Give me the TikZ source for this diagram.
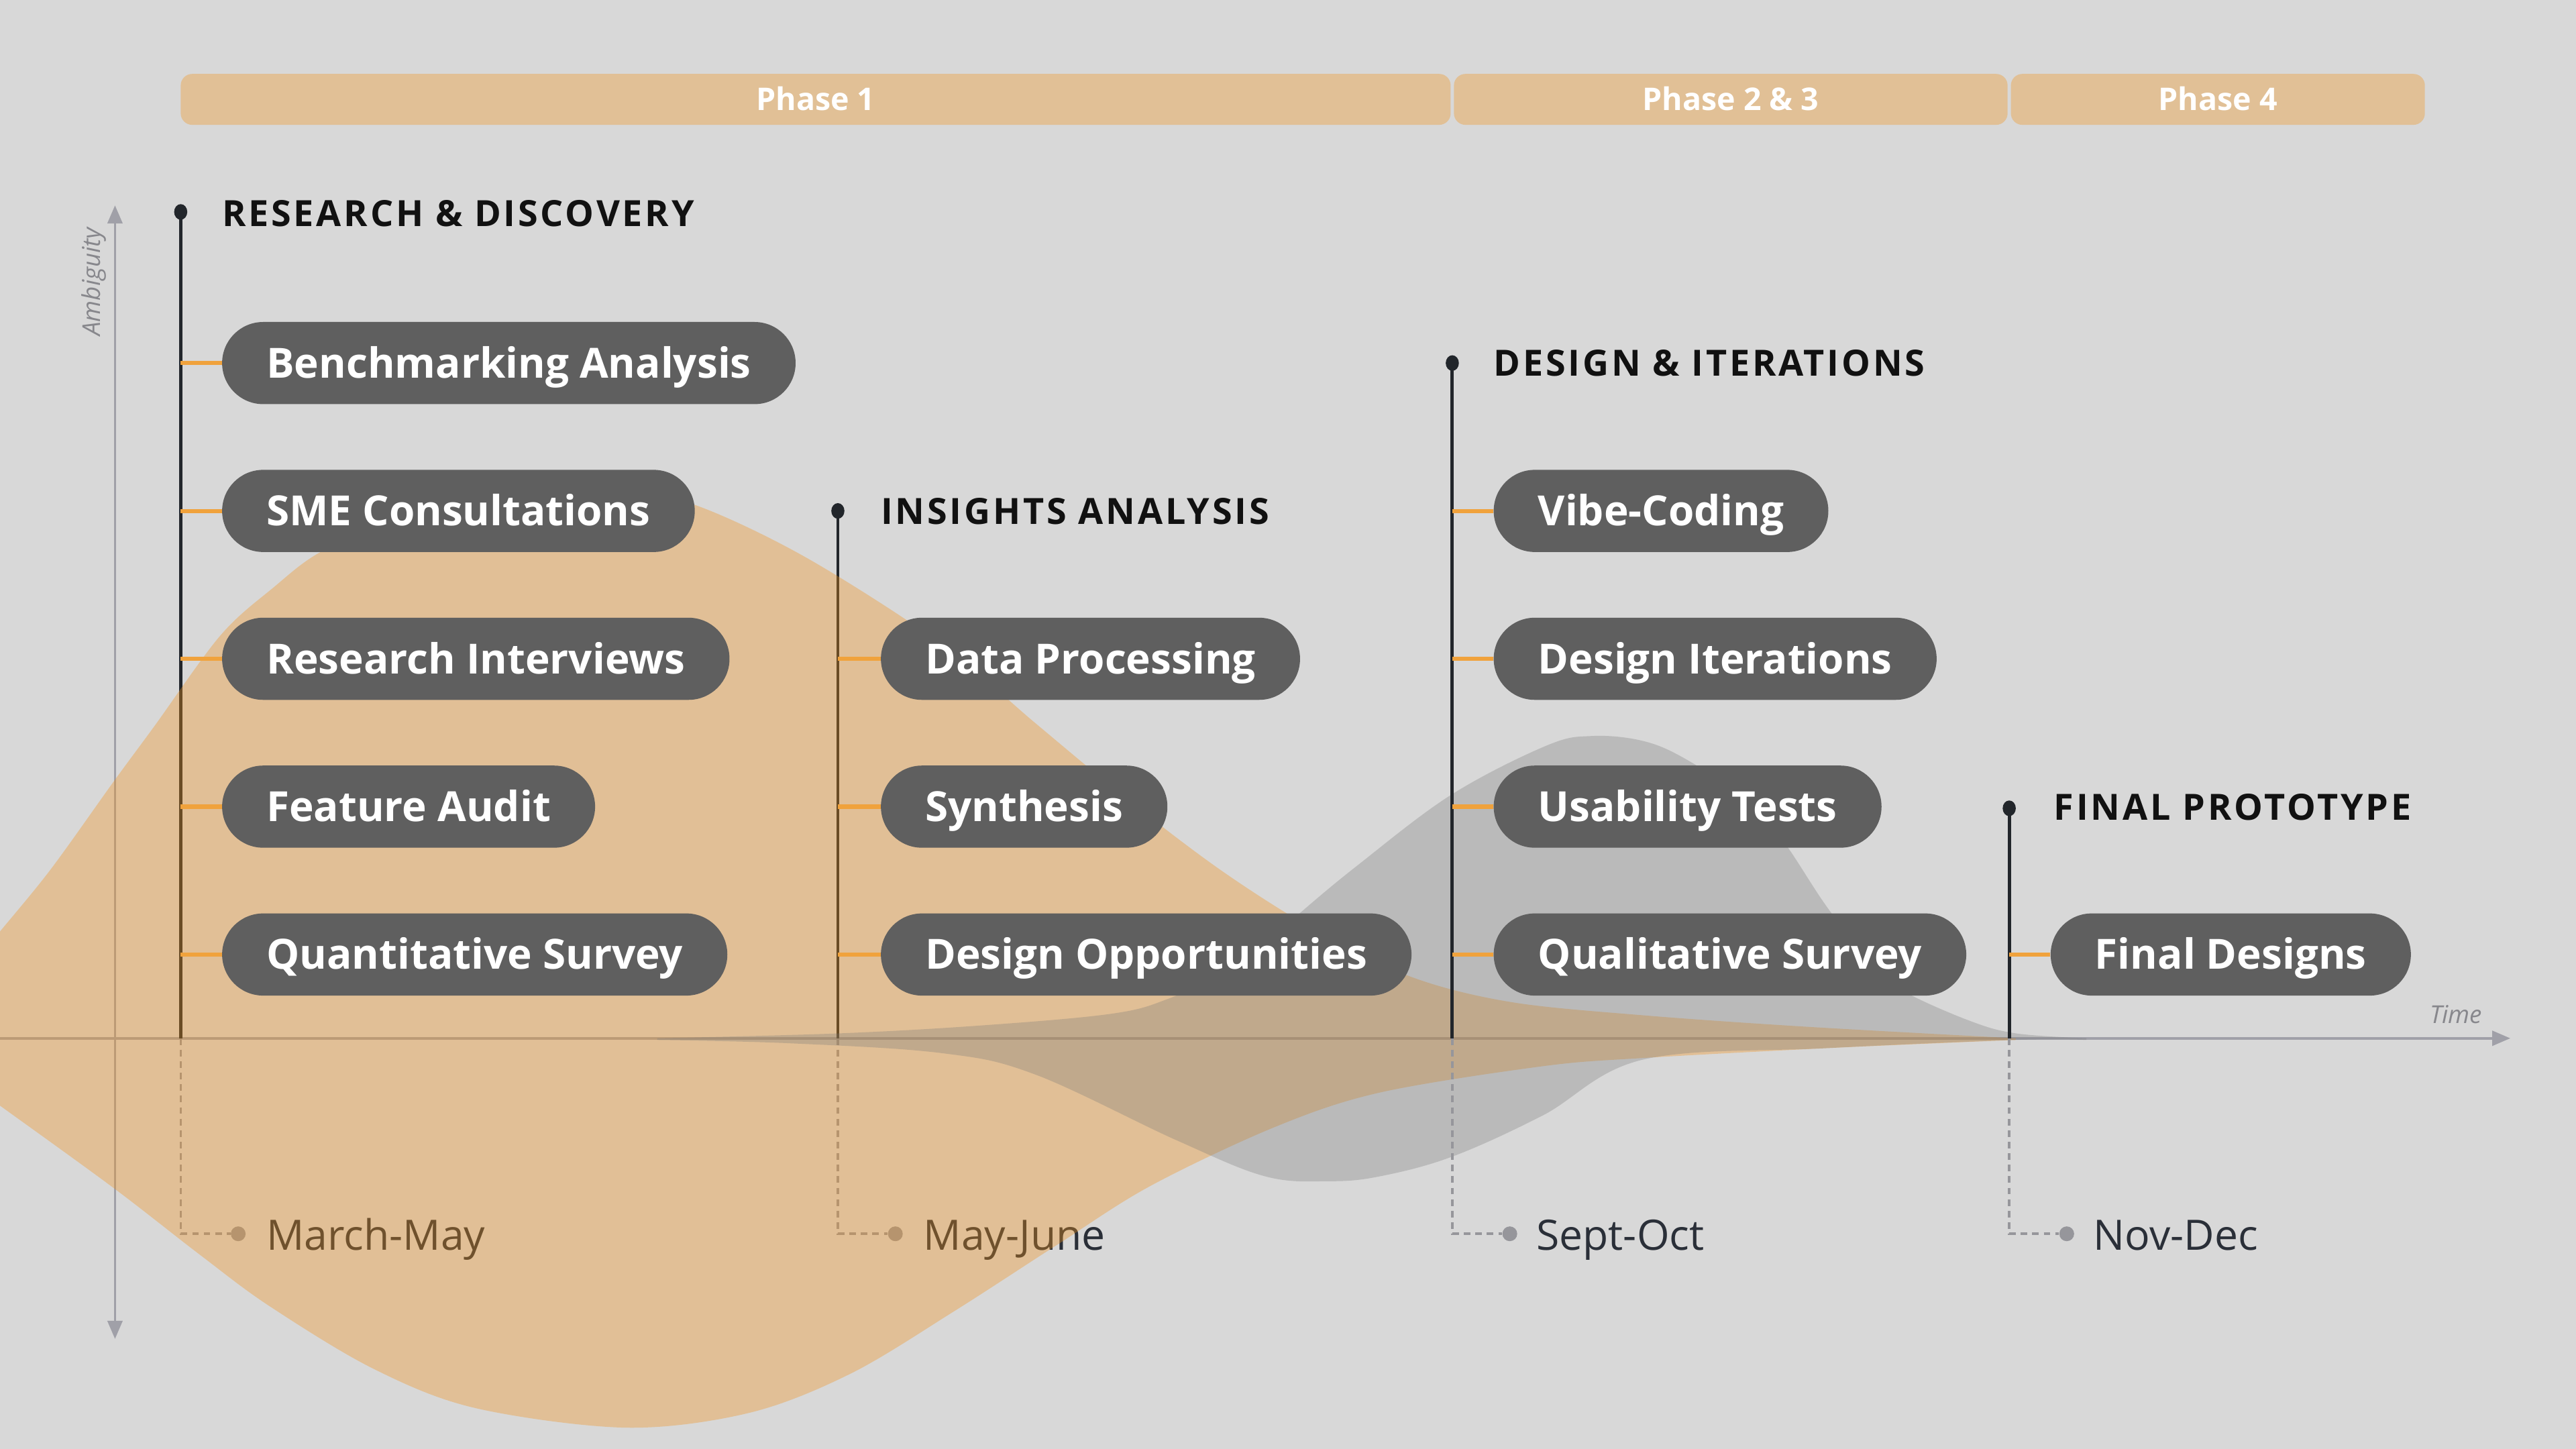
\documentclass[tikz,border=0pt]{standalone}
\usepackage{fontspec}
\setmainfont{Open Sans}
\newfontfamily\titlefont{Open Sans}[LetterSpace=7]
\usetikzlibrary{arrows.meta,shapes.geometric}
\definecolor{bgc}{RGB}{216,216,216}
\definecolor{barfill}{RGB}{225,192,150}
\definecolor{tanfill}{RGB}{242,147,27}
\definecolor{grayfill}{RGB}{119,119,119}
\definecolor{boxgray}{RGB}{95,95,95}
\definecolor{connorange}{RGB}{240,162,60}
\definecolor{linedark}{RGB}{34,38,43}
\definecolor{titleblack}{RGB}{17,17,17}
\definecolor{datetext}{RGB}{42,47,56}
\definecolor{axisgray}{RGB}{160,160,168}
\definecolor{dashgray}{RGB}{150,150,155}
\definecolor{labelgray}{RGB}{135,135,140}
\begin{document}
\begin{tikzpicture}[x=1pt,y=-1pt,
  pill/.style={fill=boxgray, text=white, rounded corners=25pt, minimum height=50pt, inner xsep=27pt, inner ysep=0pt, text height=18pt, text depth=0pt, anchor=west, font=\fontsize{25.3}{25}\selectfont\bfseries},
  ptitle/.style={anchor=base west, inner sep=0pt, text=titleblack, font=\titlefont\fontsize{22}{22}\selectfont\bfseries},
  pdot/.style={ellipse, fill=linedark, minimum width=8pt, minimum height=9.5pt, inner sep=0pt},
  pline/.style={draw=linedark, line width=2pt},
  conn/.style={draw=connorange, line width=2.5pt},
  dashln/.style={draw=dashgray, line width=1.4pt, dash pattern=on 4pt off 3pt},
  ddot/.style={circle, fill=dashgray, minimum size=9pt, inner sep=0pt},
  datelbl/.style={anchor=base west, inner sep=0pt, text=datetext, font=\fontsize{25.5}{26}\selectfont},
  phasebar/.style={fill=barfill, rounded corners=7pt, minimum height=31pt, inner sep=0pt, text=white, text height=13.6pt, text depth=0pt, font=\fontsize{19}{19}\selectfont\bfseries},
  axisl/.style={draw=axisgray, line width=1.5pt},
  axlbl/.style={text=labelgray, inner sep=0pt, font=\fontsize{15}{15}\selectfont\itshape},
]
\useasboundingbox (0,0) rectangle (1568,882);
\fill[bgc] (0,0) rectangle (1568,882);

% phase bars
\node[phasebar, minimum width=773pt] (p1) at (496.5,60.5) {Phase 1};
\node[phasebar, minimum width=337pt] (p2) at (1053.5,60.5) {Phase 2 \& 3};
\node[phasebar, minimum width=252pt] (p3) at (1350,60.5) {Phase 4};

% axes
\coordinate (hx0) at (0,632);
\coordinate (hx1) at (1528,632);
\coordinate (vy0) at (70,815);
\coordinate (vy1) at (70,125);
\draw[axisl, -{Triangle[length=11pt,width=9pt]}] (hx0) -- (hx1);
\draw[axisl, {Triangle[length=11pt,width=9pt]}-{Triangle[length=11pt,width=9pt]}] (vy0) -- (vy1);
\node[axlbl, anchor=base east] (time) at (1511,623) {Time};
\node[axlbl, rotate=90, anchor=base] (amb) at (61,171.5) {Ambiguity};

% phase 1 & 2 timelines (under the tan shape)
\node[pdot] (d1) at (110,129) {};
\coordinate (a1) at (110,632);
\coordinate (m1) at (110,751);
\draw[pline] (d1.center) -- (a1);
\node[ddot] (dd1) at (145,751) {};
\draw[dashln] (a1) -- (m1) -- (dd1);
\node[datelbl] (t1) at (162,761) {March-May};

\node[pdot] (d2) at (510,311) {};
\coordinate (a2) at (510,632);
\coordinate (m2) at (510,751);
\draw[pline] (d2.center) -- (a2);
\node[ddot] (dd2) at (545,751) {};
\draw[dashln] (a2) -- (m2) -- (dd2);
\node[datelbl] (t2) at (562,761) {May-June};

% tan shape
\fill[tanfill, opacity=0.35]
  plot[smooth, tension=0.55] coordinates {(-10,579) (0,567) (31,529) (69,476) (94,442) (134,387) (166,358) (197,335) (250,314) (320,302) (380,301) (422,307) (490,339) (573,392) (630,440) (688,488) (745,531) (802,567) (860,595) (920,610) (1000,618) (1100,625) (1227,632)}
  -- plot[smooth, tension=0.55] coordinates {(1227,633) (1112,638) (1000,644) (939,649) (840,665) (776,686) (700,722) (643,758) (581,798) (518,836) (456,860) (381,869) (289,857) (227,833) (164,795) (122,764) (69,723) (0,673) (-10,666)}
  -- cycle;

% gray shape
\fill[grayfill, opacity=0.3]
  plot[smooth, tension=0.6] coordinates {(400,632) (511,629) (600,624) (677,617) (711,608) (745,592) (770,575) (791,556) (826,527) (883,484) (941,454) (969,448) (1000,451) (1026,462) (1060,485) (1084,510) (1112,552) (1140,588) (1158,603) (1198,621) (1227,629) (1270,632)}
  -- plot[smooth, tension=0.6] coordinates {(1270,633) (1227,633) (1112,638) (1000,645) (939,679) (884,704) (840,716) (809,719) (770,716) (716,694) (630,654) (573,641) (480,635) (400,633)}
  -- cycle;

% phase 3 & 4 timelines
\node[pdot] (d3) at (884,221) {};
\coordinate (a3) at (884,632);
\coordinate (m3) at (884,751);
\draw[pline] (d3.center) -- (a3);
\node[ddot] (dd3) at (919,751) {};
\draw[dashln] (a3) -- (m3) -- (dd3);
\node[datelbl] (t3) at (935,761) {Sept-Oct};

\node[pdot] (d4) at (1223,492) {};
\coordinate (a4) at (1223,632);
\coordinate (m4) at (1223,751);
\draw[pline] (d4.center) -- (a4);
\node[ddot] (dd4) at (1258,751) {};
\draw[dashln] (a4) -- (m4) -- (dd4);
\node[datelbl] (t4) at (1274,761) {Nov-Dec};

% titles
\node[ptitle] (h1) at (135,138) {RESEARCH \& DISCOVERY};
\node[ptitle] (h2) at (536,319) {INSIGHTS ANALYSIS};
\node[ptitle] (h3) at (909,229) {DESIGN \& ITERATIONS};
\node[ptitle] (h4) at (1250,499) {FINAL PROTOTYPE};

% boxes
\node[pill] (b11) at (135,221) {Benchmarking Analysis};
\node[pill] (b12) at (135,311) {SME Consultations};
\node[pill] (b13) at (135,401) {Research Interviews};
\node[pill] (b14) at (135,491) {Feature Audit};
\node[pill] (b15) at (135,581) {Quantitative Survey};
\node[pill] (b21) at (536,401) {Data Processing};
\node[pill] (b22) at (536,491) {Synthesis};
\node[pill] (b23) at (536,581) {Design Opportunities};
\node[pill] (b31) at (909,311) {Vibe-Coding};
\node[pill] (b32) at (909,401) {Design Iterations};
\node[pill] (b33) at (909,491) {Usability Tests};
\node[pill] (b34) at (909,581) {Qualitative Survey};
\node[pill] (b41) at (1248,581) {Final Designs};

% connectors
\foreach \b in {b11,b12,b13,b14,b15} \draw[conn] (\b.west -| a1) -- (\b.west);
\foreach \b in {b21,b22,b23} \draw[conn] (\b.west -| a2) -- (\b.west);
\foreach \b in {b31,b32,b33,b34} \draw[conn] (\b.west -| a3) -- (\b.west);
\foreach \b in {b41} \draw[conn] (\b.west -| a4) -- (\b.west);
\end{tikzpicture}
\end{document}
